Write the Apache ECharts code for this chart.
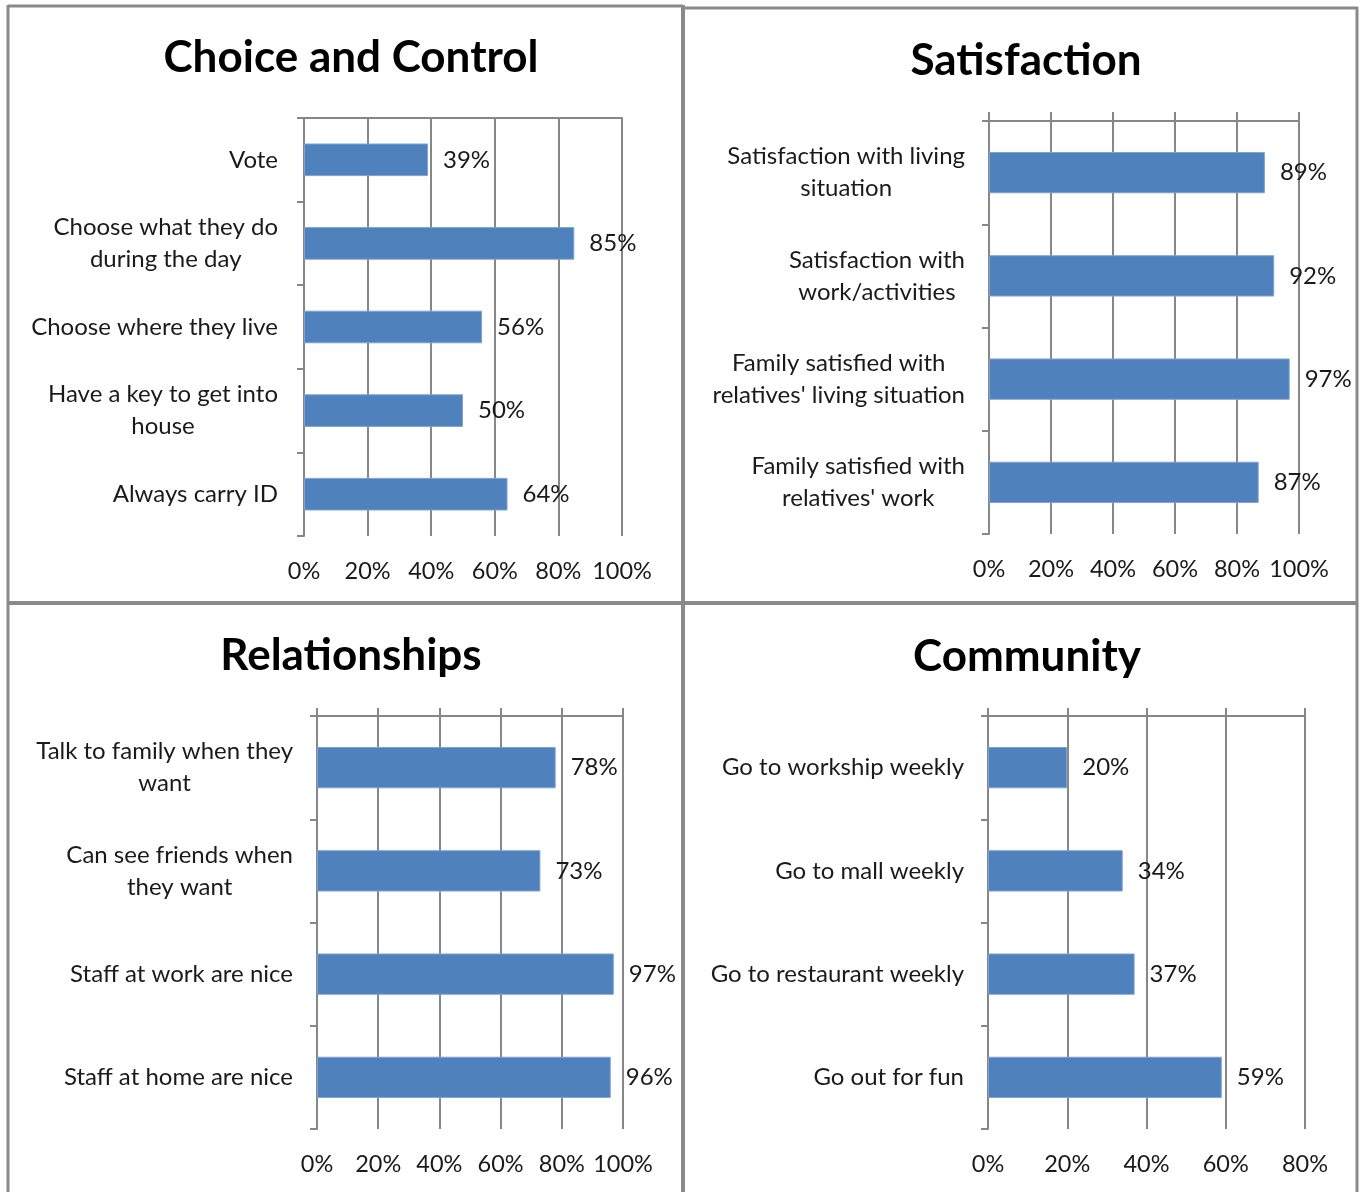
<!DOCTYPE html>
<html>
<head>
<meta charset="utf-8">
<script src="https://cdn.jsdelivr.net/npm/echarts@6/dist/echarts.min.js"></script>
<style>
html,body{margin:0;padding:0;background:#fff;}
#chart{width:1360px;height:1192px;}
</style>
</head>
<body>
<div id="chart"></div>
<script>
// ---- Data ----
const titles = ["Choice and Control", "Satisfaction", "Relationships", "Community"];

const choiceCategories = ["Vote", "Choose what they do\nduring the day", "Choose where they live", "Have a key to get into\nhouse", "Always carry ID"];
const choiceValues = [39, 85, 56, 50, 64];

const satisfactionCategories = ["Satisfaction with living\nsituation", "Satisfaction with\nwork/activities", "Family satisfied with\nrelatives' living situation", "Family satisfied with\nrelatives' work"];
const satisfactionValues = [89, 92, 97, 87];

const relationshipCategories = ["Talk to family when they\nwant", "Can see friends when\nthey want", "Staff at work are nice", "Staff at home are nice"];
const relationshipValues = [78, 73, 97, 96];

const communityCategories = ["Go to workship weekly", "Go to mall weekly", "Go to restaurant weekly", "Go out for fun"];
const communityValues = [20, 34, 37, 59];

const axisMax = [100, 100, 100, 80];

// ---- Layout ----
const FONT = "Lato, 'Open Sans', sans-serif";
const TEXT = "#1a1a1a";
const GRIDC = "#878787";
const BAR = "#4f81bd";

const panels = [
  {cats: choiceCategories, vals: choiceValues, grid: {left: 304, top: 118, width: 318, height: 418}, title: [346, 53], barW: '39%', margin: 26, topTick: 0},
  {cats: satisfactionCategories, vals: satisfactionValues, grid: {left: 989, top: 121, width: 310, height: 413}, title: [1021, 56], barW: '40%', margin: 24, topTick: 9},
  {cats: relationshipCategories, vals: relationshipValues, grid: {left: 317, top: 716, width: 306, height: 413}, title: [346, 651], barW: '40%', margin: 24, topTick: 8},
  {cats: communityCategories, vals: communityValues, grid: {left: 988, top: 716, width: 317, height: 413}, title: [1022, 652], barW: '40%', margin: 24, topTick: 8}
];

const option = {
  backgroundColor: '#fff',
  animation: false,
  title: panels.map((p, i) => ({
    text: titles[i], left: p.title[0], top: p.title[1],
    textAlign: 'center', textVerticalAlign: 'middle',
    textStyle: {fontFamily: FONT, fontWeight: 'bold', fontSize: 44, color: '#000'}
  })),
  grid: panels.map(p => Object.assign({containLabel: false}, p.grid)),
  xAxis: [],
  yAxis: [],
  series: [],
  graphic: []
};

panels.forEach((p, i) => {
  option.xAxis.push({
    type: 'value', gridIndex: i, min: 0, max: axisMax[i], interval: 20, position: 'bottom',
    axisLine: {show: false}, axisTick: {show: false},
    axisLabel: {formatter: v => v + '%', fontFamily: FONT, fontSize: 23.5, color: TEXT, margin: 23},
    splitLine: {show: true, lineStyle: {color: GRIDC, width: 2}}
  });
  option.xAxis.push({
    type: 'value', gridIndex: i, min: 0, max: axisMax[i], interval: 20, position: 'top',
    axisLine: {show: true, lineStyle: {color: GRIDC, width: 2}},
    axisTick: {show: p.topTick > 0, length: p.topTick, lineStyle: {color: GRIDC, width: 2}},
    axisLabel: {show: false}, splitLine: {show: false}
  });
  option.yAxis.push({
    type: 'category', gridIndex: i, inverse: true, data: p.cats,
    axisLine: {show: true, lineStyle: {color: GRIDC, width: 2}},
    axisTick: {show: true, length: 7, lineStyle: {color: GRIDC, width: 2}},
    axisLabel: {
      margin: p.margin, fontFamily: FONT, fontSize: 24, color: TEXT,
      formatter: v => v.split('\n').map(s => '{c|' + s + '}').join('\n'),
      rich: {c: {align: 'center', fontFamily: FONT, fontSize: 24, color: TEXT, lineHeight: 32}}
    }
  });
  option.series.push({
    type: 'bar', xAxisIndex: i * 2, yAxisIndex: i, data: p.vals, barWidth: p.barW,
    itemStyle: {color: BAR, borderColor: '#7ea3d3', borderWidth: 1},
    label: {show: true, position: 'right', distance: 15, formatter: d => d.value + '%',
      fontFamily: FONT, fontSize: 24, color: TEXT}
  });
});

// panel borders
const bc = '#8a8a8a';
const lines = [
  [8, 6, 683, 6, 3],
  [683, 8, 1358, 8, 3],
  [8, 5, 8, 1192, 3],
  [683, 5, 683, 1192, 4],
  [1357, 7, 1357, 1192, 3],
  [8, 603, 1358, 603, 4]
];
lines.forEach(l => option.graphic.push({
  type: 'line', shape: {x1: l[0], y1: l[1], x2: l[2], y2: l[3]},
  style: {stroke: bc, lineWidth: l[4]}, z: 100
}));

const chart = echarts.init(document.getElementById('chart'), null, {renderer: 'canvas'});
chart.setOption(option);
</script>
</body>
</html>
